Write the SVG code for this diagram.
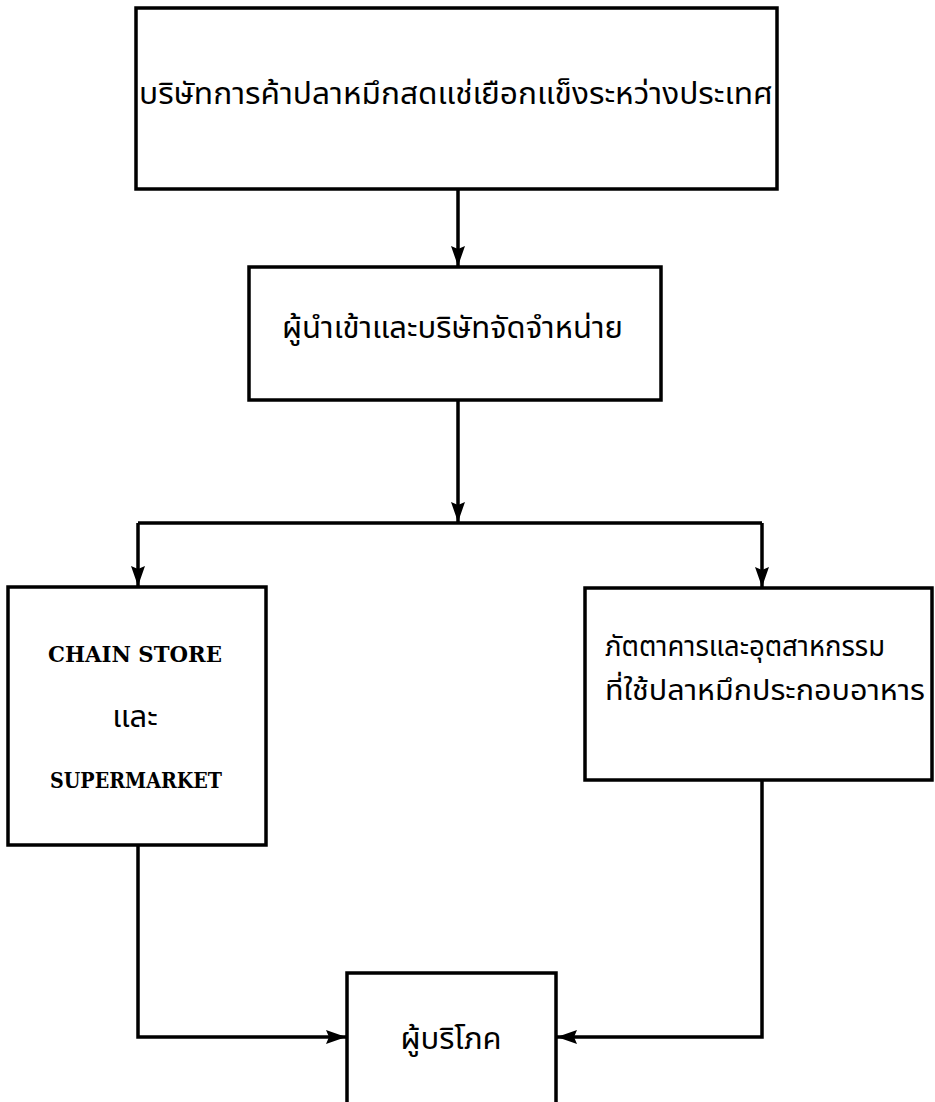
<svg xmlns="http://www.w3.org/2000/svg" width="935" height="1102" viewBox="0 0 935 1102">
<defs>
<marker id="arr" viewBox="0 0 20 14" refX="20" refY="7" markerWidth="20" markerHeight="14" markerUnits="userSpaceOnUse" orient="auto">
<path d="M0,0 L20,7 L0,14 L3,7 Z" fill="#000"/>
</marker>
<style>
.box{fill:#fff;stroke:#000;stroke-width:3.5}
.th{font-family:"Noto Sans Thai","Noto Sans","DejaVu Sans",sans-serif;font-size:31px;fill:#000}
.th4{font-family:"Noto Sans Thai","Noto Sans","DejaVu Sans",sans-serif;font-size:28px;fill:#000}
.en{font-family:"DejaVu Serif","Liberation Serif",serif;font-weight:bold;font-size:23px;fill:#000}
.c{fill:none;stroke:#000;stroke-width:3.5}
</style>
</defs>
<rect width="935" height="1102" fill="#fff"/>
<g id="connectors">
<path class="c" d="M458,189 L458,266" marker-end="url(#arr)"/>
<path class="c" d="M458,400 L458,522" marker-end="url(#arr)"/>
<path class="c" d="M138,523 L762,523"/>
<path class="c" d="M138,523 L138,586" marker-end="url(#arr)"/>
<path class="c" d="M762,523 L762,587" marker-end="url(#arr)"/>
<path class="c" d="M138,845 L138,1037 L346,1037" marker-end="url(#arr)"/>
<path class="c" d="M762,780 L762,1037 L557,1037" marker-end="url(#arr)"/>
</g>
<g id="n1">
<rect class="box" x="136" y="8" width="641" height="181"/>
<text class="th" x="456" y="104" text-anchor="middle" textLength="634" lengthAdjust="spacingAndGlyphs">บริษัทการค้าปลาหมึกสดแช่เยือกแข็งระหว่างประเทศ</text>
</g>
<g id="n2">
<rect class="box" x="249" y="267" width="412" height="133"/>
<text class="th" x="282" y="338">ผู้นำเข้าและบริษัทจัดจำหน่าย</text>
</g>
<g id="n3">
<rect class="box" x="8" y="587" width="258" height="258"/>
<text class="en" x="135" y="662" text-anchor="middle" textLength="174" lengthAdjust="spacingAndGlyphs">CHAIN STORE</text>
<text class="th" x="135" y="727" text-anchor="middle">และ</text>
<text class="en" x="136" y="788" text-anchor="middle" textLength="172" lengthAdjust="spacingAndGlyphs">SUPERMARKET</text>
</g>
<g id="n4">
<rect class="box" x="585" y="588" width="347" height="192"/>
<text class="th4" x="605" y="656" textLength="280" lengthAdjust="spacingAndGlyphs">ภัตตาคารและอุตสาหกรรม</text>
<text class="th4" x="605" y="700" textLength="320" lengthAdjust="spacingAndGlyphs">ที่ใช้ปลาหมึกประกอบอาหาร</text>
</g>
<g id="n5">
<rect class="box" x="347" y="973" width="209" height="140"/>
<text class="th" x="451" y="1049" text-anchor="middle">ผู้บริโภค</text>
</g>
</svg>
